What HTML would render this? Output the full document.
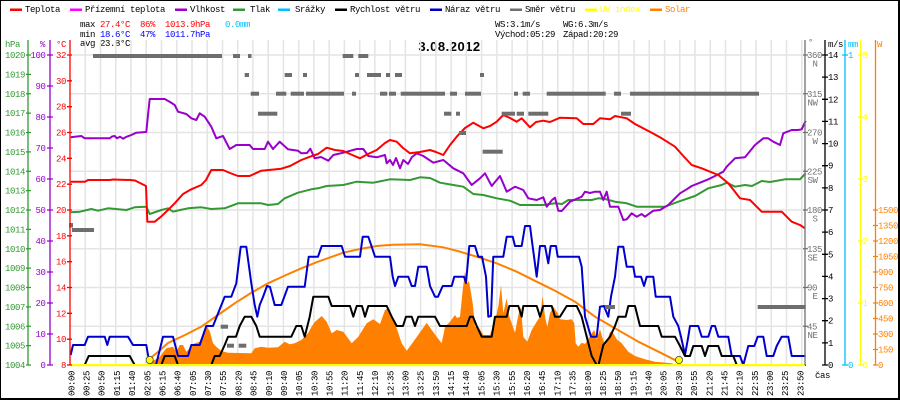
<!DOCTYPE html>
<html><head><meta charset="utf-8"><style>
html,body{margin:0;padding:0;background:#fff;}
svg{display:block;}
text{font-family:"Liberation Mono",monospace;font-size:9px;letter-spacing:-0.4px;}
</style></head><body>
<svg width="900" height="400" viewBox="0 0 900 400" xmlns="http://www.w3.org/2000/svg">
<rect x="0" y="0" width="900" height="400" fill="#fff"/>
<!-- frame -->
<path d="M0.5,0V400M0,0.5H900" stroke="#000" stroke-width="1"/>
<rect x="898" y="0" width="2" height="400" fill="#000"/>
<rect x="0" y="398" width="900" height="2" fill="#000"/>

<!-- legend -->
<g>
<rect x="10" y="8.5" width="12" height="2.5" fill="#ff0000"/><text x="25" y="12">Teplota</text>
<rect x="70" y="8.5" width="12" height="2.5" fill="#ff00ff"/><text x="85" y="12">Přízemní teplota</text>
<rect x="175" y="8.5" width="12" height="2.5" fill="#9900cc"/><text x="190" y="12">Vlhkost</text>
<rect x="233" y="8.5" width="12" height="2.5" fill="#339933"/><text x="250" y="12">Tlak</text>
<rect x="278" y="8.5" width="12" height="2.5" fill="#00bfff"/><text x="295" y="12">Srážky</text>
<rect x="335" y="8.5" width="12" height="2.5" fill="#000000"/><text x="350" y="12">Rychlost větru</text>
<rect x="430" y="8.5" width="12" height="2.5" fill="#0000cc"/><text x="445" y="12">Náraz větru</text>
<rect x="510" y="8.5" width="12" height="2.5" fill="#707070"/><text x="525" y="12">Směr větru</text>
<rect x="585" y="8.5" width="12" height="2.5" fill="#ffff00"/><text x="600" y="12" fill="#ffff00">UV index</text>
<rect x="650" y="8.5" width="12" height="2.5" fill="#ff8000"/><text x="665" y="12" fill="#ff8000">Solar</text>
</g>

<!-- info -->
<text x="80" y="27">max</text><text x="100" y="27" fill="#ff0000">27.4°C</text><text x="140" y="27" fill="#ff0000">86%</text><text x="165" y="27" fill="#ff0000">1013.9hPa</text><text x="225" y="27" fill="#00bfff">0.0mm</text>
<text x="80" y="37">min</text><text x="100" y="37" fill="#0000ff">18.6°C</text><text x="140" y="37" fill="#0000ff">47%</text><text x="165" y="37" fill="#0000ff">1011.7hPa</text>
<text x="80" y="46">avg 23.8°C</text>
<text x="495" y="27">WS:3.1m/s</text><text x="563" y="27">WG:6.3m/s</text>
<text x="495" y="37">Východ:05:29</text><text x="563" y="37">Západ:20:29</text>
<text x="449.5" y="51" text-anchor="middle" style="font-family:'Liberation Sans',sans-serif;font-weight:bold;font-size:13px;letter-spacing:0.5px;">3.08.2012</text>

<!-- grid -->
<path stroke="#e4e4e4" stroke-width="1.5" fill="none" d="M85.2,40V365M100.5,40V365M115.7,40V365M131,40V365M146.2,40V365M161.5,40V365M176.7,40V365M192,40V365M207.2,40V365M222.5,40V365M237.7,40V365M252.9,40V365M268.2,40V365M283.4,40V365M298.7,40V365M313.9,40V365M329.2,40V365M344.4,40V365M359.7,40V365M374.9,40V365M390.1,40V365M405.4,40V365M420.6,40V365M435.9,40V365M451.1,40V365M466.4,40V365M481.6,40V365M496.9,40V365M512.1,40V365M527.4,40V365M542.6,40V365M557.8,40V365M573.1,40V365M588.3,40V365M603.6,40V365M618.8,40V365M634.1,40V365M649.3,40V365M664.6,40V365M679.8,40V365M695,40V365M710.3,40V365M725.5,40V365M740.8,40V365M756,40V365M771.3,40V365M786.5,40V365M801.8,40V365
M70,55H805M70,93.75H805M70,132.5H805M70,171.25H805M70,210H805M70,248.75H805M70,287.5H805M70,326.25H805"/>

<!-- solar measured -->
<polygon fill="#ff8000" points="146.3,365 150,362 154.7,360 159.7,356.7 166.3,348.3 173,346.7 176.3,351.7 179.7,345 183,345 186.3,351.7 189.7,348.3 194.7,343.3 199.7,341.7 203,333.3 207.3,326.7 210,332 213,343.3 216.3,346.7 221.3,351 228,352.7 251.3,353.3 254.7,348.3 261.3,346.7 268,347.7 278,347.3 284.7,341.7 289.7,344.3 294.7,343.3 301.3,340 308,333.3 312,326 315,321.7 321.7,316 326.7,321.7 331.7,333.3 336.7,330 343.3,331.7 351.7,343.3 358.3,336.7 366.7,323.3 373.3,319.3 380,324 385,310 388.3,308.3 391.7,316.7 396.7,328.3 401.7,343.3 406.7,350.7 411.7,344 421.7,330 426.7,322.7 431.7,330 436.7,336.7 441.7,343.3 445,326.7 450,321.7 455,315 457,318 460,316.7 462.7,290 465,271.7 467.3,283.3 469,281 472.7,303.3 475,326.7 478.3,326.7 483.3,335 490,335 492.7,326.7 496,316.7 498.3,306.7 501,285 503.3,313.3 506.7,298.3 509.3,316.7 511.7,323.3 515,332.7 518.3,315 521,306.7 523.3,336.7 527.3,341.7 531.7,330 536.7,321.7 540,316.7 542.7,296 545,316.7 547.3,326.7 550,313.3 553.3,306.7 557.7,313.3 560,319.3 566.7,320 571.7,319.3 574.3,323.3 575.7,343.3 578.3,346.7 581.7,342.7 585,344 588.3,339.3 591.7,333.3 594.3,330 596.7,339.3 600,329.3 602.3,337.3 605,345 607.7,339.3 610,331.7 613.3,333.3 616.7,339.3 621.7,343.3 628.3,351.7 635,356 645,359.3 655,361.7 671.7,363.3 676.7,365"/>

<!-- solar theoretical -->
<polyline fill="none" stroke="#ff8000" stroke-width="2" points="148,360 158,352 168,343 185,335 201.3,326.7 218,315 234.7,303.3 251,293 268,283.3 285,275.5 301.3,268.3 318,261.7 343.3,252.7 360,249 376.7,246 393.3,244.7 420,244.3 443.3,247.3 460,251.7 476.7,256.7 496.7,263.3 516.7,271.7 536.7,281.7 555,290.7 575,301.7 595,316.7 615,328.3 638.3,341.7 661.7,353.3 678.3,361.7"/>

<!-- gust -->
<polyline fill="none" stroke="#0000cc" stroke-width="2" stroke-linejoin="round" points="70.7,355 73,345 84.7,345 88,336.7 104.7,336.7 107.3,345 109.7,336.7 128,336.7 133,345 146.3,345 148,355 150.7,365 156,365 163,336.7 173,336.7 178,356 188,356 191.3,345 199.7,345 206.3,326 213,326 224.7,296.7 231.3,296.7 236.3,283.3 240.7,246.7 246.3,246.7 251.3,283.3 254.7,305 257.3,316.7 259.7,305 263,297 267,286 270,287 274.7,305 281.3,305 288,286.7 304.7,286.7 308.7,256.7 318,256.7 321.7,246 341.7,246 345,256.7 360,256.7 362.7,236.7 368.3,236.7 371.7,246.7 375,256.7 390,256.7 392.7,276.7 395,286 398.3,276.7 408.3,276.7 411.7,286 415,286 418.3,266.7 426.7,266.7 430,286 435,296.7 438,296.7 442.7,286 451.7,286 454.3,276.7 464,276.7 466,283 469.3,246 475,246 478.3,256.7 482,256.7 486,276.7 488.3,316.7 491,316 493.3,256.7 503.3,256.7 506.7,236.7 512.7,236.7 515,246 521.7,246 525,226 530,226 532.7,246.7 536.7,276.7 540,246 545,246 548.3,263.3 550.7,246 556,246 557.7,256.7 579,256.7 581.7,266.7 585,316.7 591,336.7 596.7,336.7 600,306.7 604,306 608.3,316.7 611,296.7 615,276.7 618.3,246.7 623.3,246.7 626.7,266.7 633.3,266.7 635,276.7 641,276.7 644,286 646.7,276.7 653.3,276.7 655.7,296.7 670,296.7 673.3,316.7 678.3,326 681,336.7 685,355 688.3,336.7 690,326 698.3,326 701.7,336.7 708.3,336.7 711.7,326 715,326 718.3,336.7 728.3,336.7 731.7,356 740,356 743.3,365 748.3,346 754.3,346 757.7,336.7 763.3,336.7 766.7,356 773.3,356 776.7,346 781.7,336.7 788.3,336.7 791.7,356 805.7,356"/>

<!-- speed -->
<polyline fill="none" stroke="#000" stroke-width="2" stroke-linejoin="round" points="70.7,365 84.7,365 88.7,356 129.7,356 134.7,365 161.3,365 164.7,356 174.7,356 178,365 211.3,365 214.7,356 219.7,356 224.7,345 228,336.7 236,336.7 239.7,326 244.7,316.7 251.3,316.7 256.3,326 259.7,336.7 291.3,336.7 296.3,326 301.3,326 304.7,336.7 309.7,316.7 313.3,296.7 328.3,296.7 331.7,306 350,306 353.3,316.7 356.7,306 362,306 365,316.7 368.3,306 386.7,306 391.7,316.7 396.7,326 403,326 406,316.7 411.7,316.7 415,326 418.3,316.7 435,316.7 440,326 466.7,326 470,316.7 473,316.7 476.7,326 481.7,336.7 491.7,336.7 495,316.7 506.7,316.7 509.3,306 518.3,306 521.7,316.7 523.3,306 536.7,306 540,316.7 543.3,306 551.7,306 555,316.7 560,316.7 566.7,306 576.7,306 581.7,316.7 586.7,336.7 591.7,356 596.7,365 598.5,365 603.3,345 610,336.7 615,326 618.3,316.7 625.7,316.7 628.3,306 635,306 640,326 658.3,326 661.7,336.7 675,336.7 680,346 685,356 690,356 693.3,346 701.7,346 705,356 708.3,346 718.3,346 721.7,356 733.3,356 736.7,365 805.7,365"/>

<!-- pressure -->
<polyline fill="none" stroke="#339933" stroke-width="2" stroke-linejoin="round" points="70.7,212.3 80,211.7 91.3,209 98,210.7 108,208.3 126.3,210 134.7,207.3 146.3,206.7 149.7,214 161.3,210 168,208.3 173,211.7 180,210 188,208.3 201.3,207.3 211.3,209 224.7,208.3 238,203.3 261.3,203.3 268,205 278,204 284.7,198.3 298,192.7 311.3,189.3 318,188.3 326.7,186 343.3,185 356.7,181.7 373.3,182.7 390,179.3 410,180 420,177.3 430,178 440,182.7 453.3,185 463.3,186.7 473.3,194 483.3,195 496.7,198.3 510,200.7 520,205 543.3,205 555,203.3 562,204 568.3,200 591.7,200 598.3,198.3 605,199 615,201.7 626.7,203.3 636.7,206.7 665,206.7 678.3,201.7 695,196 708.3,188.3 721.7,185 726.7,182.7 735,186.7 745,185 752,186 761.7,181 770,182 785,179.3 800,179.3 805.7,173.3"/>

<!-- humidity -->
<polyline fill="none" stroke="#9900cc" stroke-width="2" stroke-linejoin="round" points="70.7,137.3 81.3,136 84.7,138.3 109.7,138.3 112,136.5 114.7,136 117,138.3 120,136.7 123,138.7 126,137 131.3,135 136.3,132.7 146.3,132 148,115 149.7,99 164.7,99 170,102 174.7,105 178,111.7 186.3,114 191.3,118.3 196.3,120 199.7,113.3 204.7,116.7 211.3,126.7 216.3,138.3 223,136 229.7,149 236.3,145 249.7,145 253,149 264.7,149 268,141.7 273,149 279.7,141.7 288,149.3 298,150.7 301.3,153.3 307,153 310.3,148.7 314.7,158.3 321,157 328.3,160.7 333.3,155 343.3,152.7 356.7,149 363.3,149 368.3,156 376.7,157.3 385,155 386.7,163.3 390,160 393,165 396,158 400,168.3 403.3,160 408,164 412,157 416.7,153.3 423.3,156 433.3,162.7 443.3,160 453.3,168.3 463.3,173.3 471.7,185 480,178.3 485,173.3 491.7,186 500,176 506.7,191.7 515,186.7 523.3,190 528.3,198.3 536.7,200 543.3,197.3 546.7,206.7 552,200 555,197.7 558.3,210.7 561.7,211 570,201.7 581.7,196.7 585,191.7 590,193 595,191.7 600,191.7 603.3,200 606.7,191.7 610,206.7 618.3,206.7 623.3,220 626.7,219.3 631.7,213.3 636.7,216.7 641.7,214 645,216.7 653.3,210.7 660,210 668.3,205 680,193.3 686.7,189.3 691.7,186 700,182.7 708.3,179.3 715,176 723.3,171.7 726.7,166.7 735,158.3 745,157.3 755,145 763.3,138.3 768,138.3 773.3,141.7 780,145 783.3,133.3 791.7,130 798,130 801.7,129.3 805.7,120.7"/>

<!-- temperature -->
<polyline fill="none" stroke="#ff0000" stroke-width="2" stroke-linejoin="round" points="70.7,181.7 85,181.7 88,180 110,180 113,179.5 130,180 135,180.5 140,183 146,186 147.3,221.7 154.7,221.7 161,216.7 168,210 174.7,203.3 183,194 191.3,189.3 201.3,185 206,180 211.3,170 223,170 230,173 238,176 249.7,176 261.3,170.7 281.3,168.7 290,166 301.3,160 310,156.7 318,154 326.7,147.7 335,150 343.3,151 350,154 360,158.3 368,154 376.7,150 385,143 390,140 396.7,141.7 403,148 410,153.3 420,152 430,150 436,152 443.3,155 450,145 456.7,136.7 465,128 473.3,122.7 483.3,128.3 490,126 496.7,121.7 503.3,115 510,118 516.7,121.7 521.7,118.3 530,127.3 536,122 543.3,120.7 550,122 560,117.7 576.7,118.3 583.3,124 593.3,124 600,118.3 610,119.3 615,116 626.7,118.3 635,124 651.7,132.7 661.7,138.3 675,146.7 683.3,156 691.7,165 701.7,168.3 718.3,175 728.3,183.3 740,198.3 750,200 761.7,211.7 781.7,211.7 791.7,221.7 800,225 805,228.3"/>

<!-- wind direction bars -->
<g fill="#6e6e6e">
<rect x="93" y="54" width="129" height="4"/><rect x="233" y="54" width="7" height="4"/><rect x="248" y="54" width="3.5" height="4"/><rect x="342.7" y="54" width="10.6" height="4"/><rect x="358.3" y="54" width="10" height="4"/>
<rect x="244.7" y="73" width="4.3" height="4"/><rect x="284.7" y="73" width="7.3" height="4"/><rect x="303" y="73" width="4" height="4"/><rect x="355" y="73" width="4" height="4"/><rect x="367" y="73" width="14" height="4"/><rect x="386" y="73" width="4" height="4"/><rect x="395" y="73" width="7" height="4"/><rect x="480" y="73" width="4" height="4"/>
<rect x="250.7" y="91.7" width="8.3" height="4"/><rect x="276" y="91.7" width="10.3" height="4"/><rect x="290.7" y="91.7" width="13.3" height="4"/><rect x="306" y="91.7" width="38" height="4"/><rect x="352" y="91.7" width="4" height="4"/><rect x="380" y="91.7" width="7.3" height="4"/><rect x="389" y="91.7" width="7" height="4"/><rect x="400.7" y="91.7" width="44.3" height="4"/><rect x="450" y="91.7" width="7" height="4"/><rect x="465" y="91.7" width="16" height="4"/><rect x="514" y="91.7" width="4" height="4"/><rect x="522.7" y="91.7" width="7.3" height="4"/><rect x="546.7" y="91.7" width="59" height="4"/><rect x="614" y="91.7" width="7" height="4"/><rect x="630" y="91.7" width="129" height="4"/>
<rect x="258" y="111.7" width="19.3" height="4"/><rect x="444" y="111.7" width="7.3" height="4"/><rect x="456" y="111.7" width="4" height="4"/><rect x="501.7" y="111.7" width="13.3" height="4"/><rect x="516.7" y="111.7" width="7.3" height="4"/><rect x="528.3" y="111.7" width="20" height="4"/><rect x="621" y="111.7" width="10" height="4"/>
<rect x="459" y="131" width="7" height="4"/><rect x="482.7" y="149.7" width="20" height="4"/>
<rect x="69" y="223" width="4" height="4.5"/><rect x="72" y="228" width="22" height="4"/>
<rect x="220.7" y="324.7" width="7.3" height="4"/><rect x="227" y="343.7" width="7" height="4"/><rect x="238.7" y="343.7" width="7.6" height="4"/>
<rect x="605" y="305" width="10" height="4"/><rect x="757.7" y="305" width="48" height="4"/>
</g>

<!-- UV baseline -->
<rect x="70" y="364" width="735" height="2.2" fill="#ffff00"/>
<circle cx="149.7" cy="360" r="3.6" fill="#ffff00" stroke="#444" stroke-width="0.8"/>
<circle cx="679" cy="360" r="3.6" fill="#ffff00" stroke="#444" stroke-width="0.8"/>

<!-- axes -->
<g stroke-width="1.3" fill="none">
<path stroke="#339933" d="M28,40V365M26,55h5M26,74.4h5M26,93.75h5M26,113.1h5M26,132.5h5M26,151.9h5M26,171.25h5M26,190.6h5M26,210h5M26,229.4h5M26,248.75h5M26,268.1h5M26,287.5h5M26,306.9h5M26,326.25h5M26,345.6h5M26,365h5"/>
<path stroke="#9900cc" d="M50,40V365M47,55h6M47,86h6M47,117h6M47,148h6M47,179h6M47,210h6M47,241h6M47,272h6M47,303h6M47,334h6M47,365h6"/>
<path stroke="#ff0000" d="M70,40V365M67,55h5M67,80.8h5M67,106.7h5M67,132.5h5M67,158.3h5M67,184.2h5M67,210h5M67,235.8h5M67,261.7h5M67,287.5h5M67,313.3h5M67,339.2h5M67,365h5"/>
<path stroke="#707070" d="M805,40V365M803,55h5M803,93.75h5M803,132.5h5M803,171.25h5M803,210h5M803,248.75h5M803,287.5h5M803,326.25h5"/>
<path stroke="#000000" d="M825,40V365M822,55h6M822,77.1h6M822,99.3h6M822,121.4h6M822,143.6h6M822,165.7h6M822,187.9h6M822,210h6M822,232.1h6M822,254.3h6M822,276.4h6M822,298.6h6M822,320.7h6M822,342.9h6M822,365h6"/>
<path stroke="#00bfff" d="M845,40V365M842,55h6M842,365h6"/>
<path stroke="#ffff00" d="M860.5,40V365M858,55h5M858,117h5M858,179h5M858,241h5M858,303h5M858,365h5"/>
<path stroke="#ff8000" d="M875.5,40V365M873,210h5M873,225.5h5M873,241h5M873,256.5h5M873,272h5M873,287.5h5M873,303h5M873,318.5h5M873,334h5M873,349.5h5M873,365h5"/>
</g>

<!-- unit labels -->
<text x="5" y="47" fill="#339933">hPa</text>
<text x="40" y="47" fill="#9900cc">%</text>
<text x="56" y="47" fill="#ff0000">°C</text>
<text x="808" y="45" fill="#707070">°</text>
<text x="828" y="47" fill="#000">m/s</text>
<text x="848" y="47" fill="#00bfff">mm</text>
<text x="877" y="47" fill="#ff8000">W</text>

<!-- left tick labels -->
<g fill="#339933" text-anchor="end">
<text x="25" y="58">1020</text><text x="25" y="77.4">1019</text><text x="25" y="96.75">1018</text><text x="25" y="116.1">1017</text><text x="25" y="135.5">1016</text><text x="25" y="154.9">1015</text><text x="25" y="174.25">1014</text><text x="25" y="193.6">1013</text><text x="25" y="213">1012</text><text x="25" y="232.4">1011</text><text x="25" y="251.75">1010</text><text x="25" y="271.1">1009</text><text x="25" y="290.5">1008</text><text x="25" y="309.9">1007</text><text x="25" y="329.25">1006</text><text x="25" y="348.6">1005</text><text x="25" y="368">1004</text>
</g>
<g fill="#9900cc" text-anchor="end">
<text x="45.5" y="58">100</text><text x="45.5" y="89">90</text><text x="45.5" y="120">80</text><text x="45.5" y="151">70</text><text x="45.5" y="182">60</text><text x="45.5" y="213">50</text><text x="45.5" y="244">40</text><text x="45.5" y="275">30</text><text x="45.5" y="306">20</text><text x="45.5" y="337">10</text><text x="45.5" y="368">0</text>
</g>
<g fill="#ff0000" text-anchor="end">
<text x="66" y="58">32</text><text x="66" y="83.8">30</text><text x="66" y="109.7">28</text><text x="66" y="135.5">26</text><text x="66" y="161.3">24</text><text x="66" y="187.2">22</text><text x="66" y="213">20</text><text x="66" y="238.8">18</text><text x="66" y="264.7">16</text><text x="66" y="290.5">14</text><text x="66" y="316.3">12</text><text x="66" y="342.2">10</text><text x="66" y="368">8</text>
</g>

<!-- right tick labels -->
<g fill="#707070">
<text x="807" y="58">360</text><text x="817.5" y="66.5" text-anchor="end">N</text>
<text x="807" y="96.75">315</text><text x="817.5" y="105.25" text-anchor="end">NW</text>
<text x="807" y="135.5">270</text><text x="817.5" y="144" text-anchor="end">W</text>
<text x="807" y="174.25">225</text><text x="817.5" y="182.75" text-anchor="end">SW</text>
<text x="807" y="213">180</text><text x="817.5" y="221.5" text-anchor="end">S</text>
<text x="807" y="251.75">135</text><text x="817.5" y="260.25" text-anchor="end">SE</text>
<text x="807" y="290.5">90</text><text x="817.5" y="299" text-anchor="end">E</text>
<text x="807" y="329.25">45</text><text x="817.5" y="337.75" text-anchor="end">NE</text>
</g>
<g fill="#000">
<text x="828" y="58">14</text><text x="828" y="80.1">13</text><text x="828" y="102.3">12</text><text x="828" y="124.4">11</text><text x="828" y="146.6">10</text><text x="828" y="168.7">9</text><text x="828" y="190.9">8</text><text x="828" y="213">7</text><text x="828" y="235.1">6</text><text x="828" y="257.3">5</text><text x="828" y="279.4">4</text><text x="828" y="301.6">3</text><text x="828" y="323.7">2</text><text x="828" y="345.9">1</text><text x="828" y="368">0</text>
</g>
<g fill="#00bfff"><text x="848" y="58">1</text><text x="848" y="368">0</text></g>
<g fill="#ffff00"><text x="862.5" y="58">5</text><text x="862.5" y="120">4</text><text x="862.5" y="182">3</text><text x="862.5" y="244">2</text><text x="862.5" y="306">1</text><text x="862.5" y="368">0</text></g>
<g fill="#ff8000">
<text x="878" y="213">1500</text><text x="878" y="228.5">1350</text><text x="878" y="244">1200</text><text x="878" y="259.5">1050</text><text x="878" y="275">900</text><text x="878" y="290.5">750</text><text x="878" y="306">600</text><text x="878" y="321.5">450</text><text x="878" y="337">300</text><text x="878" y="352.5">150</text><text x="878" y="368">0</text>
</g>

<text x="815" y="378">čas</text>

<!-- time labels -->
<g fill="#000">
<text transform="translate(74.3,396) rotate(-90)">00:00</text>
<text transform="translate(89.5,396) rotate(-90)">00:25</text>
<text transform="translate(104.7,396) rotate(-90)">00:50</text>
<text transform="translate(119.9,396) rotate(-90)">01:15</text>
<text transform="translate(135.1,396) rotate(-90)">01:40</text>
<text transform="translate(150.3,396) rotate(-90)">02:05</text>
<text transform="translate(165.4,396) rotate(-90)">06:15</text>
<text transform="translate(180.6,396) rotate(-90)">06:40</text>
<text transform="translate(195.8,396) rotate(-90)">07:05</text>
<text transform="translate(211,396) rotate(-90)">07:30</text>
<text transform="translate(226.2,396) rotate(-90)">07:55</text>
<text transform="translate(241.4,396) rotate(-90)">08:20</text>
<text transform="translate(256.6,396) rotate(-90)">08:45</text>
<text transform="translate(271.8,396) rotate(-90)">09:10</text>
<text transform="translate(287,396) rotate(-90)">09:40</text>
<text transform="translate(302.2,396) rotate(-90)">10:05</text>
<text transform="translate(317.3,396) rotate(-90)">10:30</text>
<text transform="translate(332.5,396) rotate(-90)">10:55</text>
<text transform="translate(347.7,396) rotate(-90)">11:20</text>
<text transform="translate(362.9,396) rotate(-90)">11:45</text>
<text transform="translate(378.1,396) rotate(-90)">12:10</text>
<text transform="translate(393.3,396) rotate(-90)">12:35</text>
<text transform="translate(408.5,396) rotate(-90)">13:00</text>
<text transform="translate(423.7,396) rotate(-90)">13:25</text>
<text transform="translate(438.9,396) rotate(-90)">13:50</text>
<text transform="translate(454.1,396) rotate(-90)">14:15</text>
<text transform="translate(469.2,396) rotate(-90)">14:40</text>
<text transform="translate(484.4,396) rotate(-90)">15:05</text>
<text transform="translate(499.6,396) rotate(-90)">15:30</text>
<text transform="translate(514.8,396) rotate(-90)">15:55</text>
<text transform="translate(530,396) rotate(-90)">16:20</text>
<text transform="translate(545.2,396) rotate(-90)">16:45</text>
<text transform="translate(560.4,396) rotate(-90)">17:10</text>
<text transform="translate(575.6,396) rotate(-90)">17:35</text>
<text transform="translate(590.8,396) rotate(-90)">18:00</text>
<text transform="translate(606,396) rotate(-90)">18:25</text>
<text transform="translate(621.1,396) rotate(-90)">18:50</text>
<text transform="translate(636.3,396) rotate(-90)">19:15</text>
<text transform="translate(651.5,396) rotate(-90)">19:40</text>
<text transform="translate(666.7,396) rotate(-90)">20:05</text>
<text transform="translate(681.9,396) rotate(-90)">20:30</text>
<text transform="translate(697.1,396) rotate(-90)">20:55</text>
<text transform="translate(712.3,396) rotate(-90)">21:20</text>
<text transform="translate(727.5,396) rotate(-90)">21:45</text>
<text transform="translate(742.7,396) rotate(-90)">22:10</text>
<text transform="translate(757.9,396) rotate(-90)">22:35</text>
<text transform="translate(773,396) rotate(-90)">23:00</text>
<text transform="translate(788.2,396) rotate(-90)">23:25</text>
<text transform="translate(803.4,396) rotate(-90)">23:50</text>
</g>
</svg>
</body></html>
